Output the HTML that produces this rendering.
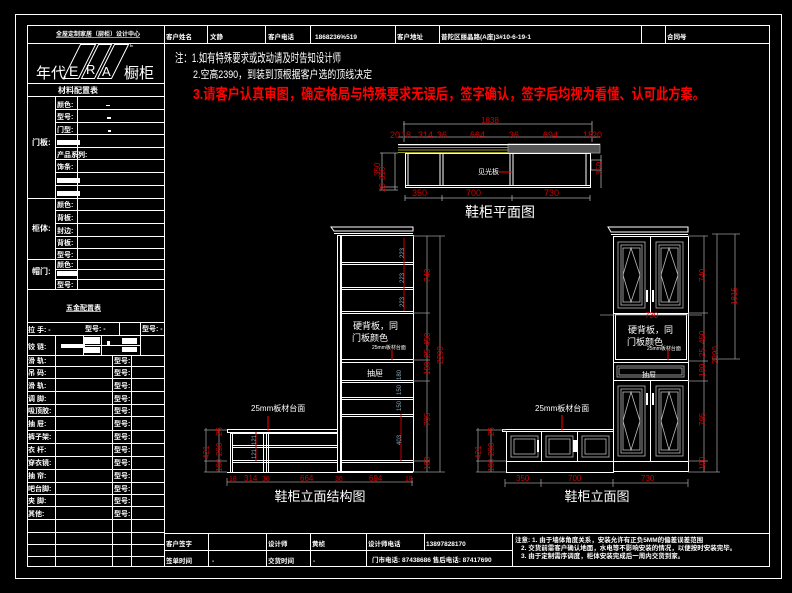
<!DOCTYPE html>
<html><head><meta charset="utf-8"><style>
html,body{margin:0;padding:0;background:#000;}
svg{display:block;}
text{font-family:"Liberation Sans","Noto Sans CJK SC",sans-serif;}
</style></head><body>
<svg width="792" height="593" viewBox="0 0 792 593" xmlns="http://www.w3.org/2000/svg">
<rect width="792" height="593" fill="#000"/>
<g fill="none" stroke="#fff" stroke-width="1">
<rect x="15.5" y="14.5" width="766" height="564"/>
<rect x="27.5" y="25.5" width="742" height="541"/>
<line x1="164.5" y1="25" x2="164.5" y2="566"/>
<line x1="164" y1="43.5" x2="769" y2="43.5"/>
<line x1="207.5" y1="25" x2="207.5" y2="43"/>
<line x1="265.5" y1="25" x2="265.5" y2="43"/>
<line x1="310.5" y1="25" x2="310.5" y2="43"/>
<line x1="395.5" y1="25" x2="395.5" y2="43"/>
<line x1="439.5" y1="25" x2="439.5" y2="43"/>
<line x1="641.5" y1="25" x2="641.5" y2="43"/>
<line x1="665.5" y1="25" x2="665.5" y2="43"/>
<line x1="27" y1="43.5" x2="164" y2="43.5"/>
<line x1="27" y1="83.5" x2="164" y2="83.5"/>
<line x1="27" y1="96.5" x2="164" y2="96.5"/>
<line x1="55" y1="109.5" x2="164" y2="109.5"/>
<line x1="55" y1="122.5" x2="164" y2="122.5"/>
<line x1="55" y1="134.5" x2="164" y2="134.5"/>
<line x1="55" y1="147.5" x2="164" y2="147.5"/>
<line x1="55" y1="159.5" x2="164" y2="159.5"/>
<line x1="55" y1="172.5" x2="164" y2="172.5"/>
<line x1="55" y1="185.5" x2="164" y2="185.5"/>
<line x1="27" y1="198.5" x2="164" y2="198.5"/>
<line x1="55" y1="210.5" x2="164" y2="210.5"/>
<line x1="55" y1="223.5" x2="164" y2="223.5"/>
<line x1="55" y1="236.5" x2="164" y2="236.5"/>
<line x1="55" y1="248.5" x2="164" y2="248.5"/>
<line x1="27" y1="259.5" x2="164" y2="259.5"/>
<line x1="55" y1="269.5" x2="164" y2="269.5"/>
<line x1="55" y1="279.5" x2="164" y2="279.5"/>
<line x1="27" y1="289.5" x2="164" y2="289.5"/>
<line x1="27" y1="322.5" x2="164" y2="322.5"/>
<line x1="55.5" y1="96" x2="55.5" y2="289"/>
<line x1="77.5" y1="96" x2="77.5" y2="289"/>
<line x1="119.5" y1="322" x2="119.5" y2="335"/>
<line x1="140.5" y1="322" x2="140.5" y2="355"/>
<line x1="27" y1="335.5" x2="164" y2="335.5"/>
<line x1="83.5" y1="335" x2="83.5" y2="355"/>
<line x1="101.5" y1="335" x2="101.5" y2="355"/>
<line x1="83" y1="345.5" x2="140" y2="345.5"/>
<line x1="27" y1="355.5" x2="164" y2="355.5"/>
<line x1="27" y1="366.5" x2="164" y2="366.5"/>
<line x1="27" y1="378.5" x2="164" y2="378.5"/>
<line x1="27" y1="391.5" x2="164" y2="391.5"/>
<line x1="27" y1="404.5" x2="164" y2="404.5"/>
<line x1="27" y1="416.5" x2="164" y2="416.5"/>
<line x1="27" y1="430.5" x2="164" y2="430.5"/>
<line x1="27" y1="443.5" x2="164" y2="443.5"/>
<line x1="27" y1="456.5" x2="164" y2="456.5"/>
<line x1="27" y1="469.5" x2="164" y2="469.5"/>
<line x1="27" y1="482.5" x2="164" y2="482.5"/>
<line x1="27" y1="494.5" x2="164" y2="494.5"/>
<line x1="27" y1="506.5" x2="164" y2="506.5"/>
<line x1="27" y1="519.5" x2="164" y2="519.5"/>
<line x1="27" y1="532.5" x2="164" y2="532.5"/>
<line x1="27" y1="544.5" x2="164" y2="544.5"/>
<line x1="27" y1="556.5" x2="164" y2="556.5"/>
<line x1="55.5" y1="335" x2="55.5" y2="566"/>
<line x1="112.5" y1="355" x2="112.5" y2="566"/>
<line x1="131.5" y1="355" x2="131.5" y2="566"/>
<line x1="164" y1="533.5" x2="769" y2="533.5"/>
<line x1="164" y1="550.5" x2="512" y2="550.5"/>
<line x1="208.5" y1="533" x2="208.5" y2="566"/>
<line x1="266.5" y1="533" x2="266.5" y2="566"/>
<line x1="310.5" y1="533" x2="310.5" y2="566"/>
<line x1="366.5" y1="533" x2="366.5" y2="566"/>
<line x1="424.5" y1="533" x2="424.5" y2="550"/>
<line x1="512.5" y1="533" x2="512.5" y2="566"/>
</g>
<g fill="#fff">
<rect x="57" y="140" width="23" height="5"/><rect x="57" y="178" width="23" height="5"/><rect x="57" y="191" width="23" height="5"/>
<rect x="57" y="271" width="21" height="5"/>
<rect x="61" y="344" width="24" height="4"/><rect x="84" y="337" width="16" height="7"/><rect x="84" y="347" width="16" height="6"/><rect x="107" y="341" width="3" height="4"/><rect x="122" y="338" width="15" height="6"/><rect x="122" y="347" width="15" height="5"/>
<rect x="107" y="117" width="4" height="2"/><rect x="108" y="130" width="3" height="2"/><rect x="106" y="105" width="4" height="1"/>
</g>
<g fill="#fff" font-size="7" font-weight="bold">
<text x="56" y="36" font-size="6" text-decoration="underline">全屋定制家居（厨柜）设计中心</text>
<text x="58" y="93" font-size="8">材料配置表</text>
<text x="32" y="145" font-size="8">门板:</text>
<text x="32" y="231" font-size="8">柜体:</text>
<text x="32" y="274" font-size="8">帽门:</text>
<text x="66" y="310" font-size="7" text-decoration="underline">五金配置表</text>
<text x="57" y="107">颜色:</text><text x="57" y="119">型号:</text><text x="57" y="132">门型:</text>
<text x="57" y="157">产品系列:</text><text x="57" y="169">饰条:</text>
<text x="57" y="207">颜色:</text><text x="57" y="220">背板:</text><text x="57" y="233">封边:</text><text x="57" y="245">背板:</text><text x="57" y="257">型号:</text>
<text x="57" y="267">颜色:</text><text x="57" y="287">型号:</text>
<text x="28" y="332">拉 手:  -</text><text x="85" y="331">型号: -</text><text x="142" y="331">型号: -</text>
<text x="28" y="349">铰 链:</text>
<text x="28" y="363">滑 轨:</text><text x="28" y="375">吊 码:</text><text x="28" y="388">滑 轨:</text><text x="28" y="401">调 脚:</text><text x="28" y="413">吸顶胶:</text><text x="28" y="426">抽 屉:</text><text x="28" y="439">裤子架:</text><text x="28" y="452">衣 杆:</text><text x="28" y="465">穿衣镜:</text><text x="28" y="478">抽 帘:</text><text x="28" y="491">吧台脚:</text><text x="28" y="503">夹 脚:</text><text x="28" y="516">其他:</text>
<g><text x="114" y="363">型号:</text><text x="114" y="375">型号:</text><text x="114" y="388">型号:</text><text x="114" y="401">型号:</text><text x="114" y="413">型号:</text><text x="114" y="426">型号:</text><text x="114" y="439">型号:</text><text x="114" y="452">型号:</text><text x="114" y="465">型号:</text><text x="114" y="478">型号:</text><text x="114" y="491">型号:</text><text x="114" y="503">型号:</text><text x="114" y="516">型号:</text></g>
</g>
<!-- logo -->
<g stroke="#fff" fill="none" stroke-width="1">
<polygon points="63.5,78.5 80.5,44.5 95.5,44.5 78.5,78.5"/>
<polygon points="81.5,78.5 98.5,44.5 111.5,44.5 94.5,78.5"/>
<polygon points="97.5,78.5 114.5,44.5 128.5,44.5 111.5,78.5"/>
</g>
<g fill="#fff">
<text x="36" y="78" font-size="15" font-family="Liberation Serif,Noto Serif CJK SC,serif">年代</text>
<text x="69" y="76" font-size="14" font-family="Liberation Serif,serif">E</text>
<text x="86" y="74" font-size="13" font-family="Liberation Serif,serif">R</text>
<text x="102" y="76" font-size="13" font-family="Liberation Serif,serif">A</text>
<text x="124" y="78" font-size="15" font-family="Liberation Serif,Noto Serif CJK SC,serif">橱柜</text>
<text x="130" y="47" font-size="5">E</text>
</g>
<g fill="#fff" font-size="6.5" font-weight="bold">
<text x="166" y="39">客户姓名</text><text x="210" y="39">文静</text><text x="268" y="39">客户电话</text><text x="315" y="39">1868236%519</text>
<text x="397" y="39">客户地址</text><text x="441" y="39">普陀区丽晶路(A座)3#10-6-19-1</text><text x="667" y="39">合同号</text><text x="667" y="39" dx="12">-    -</text>
<text x="166" y="546">客户签字</text><text x="268" y="546">设计师</text><text x="312" y="546">黄桢</text><text x="368" y="546">设计师电话</text><text x="426" y="546">13897828170</text>
<text x="166" y="563">签单时间</text><text x="212" y="563">-</text><text x="268" y="563">交货时间</text><text x="313" y="563">-</text><text x="372" y="562">门市电话: 87438686   售后电话: 87417690</text>
<text x="515" y="542">注意: 1. 由于墙体角度关系，安装允许有正负5MM的偏差误差范围</text>
<text x="521" y="550">2. 交货前需客户确认地面，水电等不影响安装的情况，以便按时安装完毕。</text>
<text x="521" y="558">3. 由于定制需序调度，柜体安装完成后一周内交货到家。</text>
</g>
<text x="175" y="62" fill="#fff" font-size="12" textLength="166" lengthAdjust="spacingAndGlyphs" font-family="Liberation Serif,Noto Serif CJK SC,serif">注：1.如有特殊要求或改动请及时告知设计师</text>
<text x="193" y="78" fill="#fff" font-size="11" textLength="179" lengthAdjust="spacingAndGlyphs" font-family="Liberation Serif,Noto Serif CJK SC,serif">2.空高2390，到装到顶根据客户选的顶线决定</text>
<text x="193" y="99" fill="#f00" font-size="15" font-weight="bold" textLength="512" lengthAdjust="spacingAndGlyphs" font-family="Liberation Serif,Noto Serif CJK SC,serif">3.请客户认真审图，确定格局与特殊要求无误后，签字确认，签字后均视为看懂、认可此方案。</text>

<!-- PLAN VIEW -->
<g stroke="#aaa" stroke-width="0.8" fill="none">
<line x1="403" y1="124" x2="592" y2="124"/><line x1="404" y1="121" x2="404" y2="142"/><line x1="592" y1="121" x2="592" y2="142"/>
<line x1="398" y1="137" x2="600" y2="137"/>
<line x1="405" y1="198" x2="590" y2="198"/><line x1="405" y1="195" x2="405" y2="201"/><line x1="442" y1="195" x2="442" y2="201"/><line x1="512" y1="195" x2="512" y2="201"/><line x1="590" y1="195" x2="590" y2="201"/>
<line x1="382" y1="153" x2="382" y2="190"/><line x1="395" y1="153" x2="395" y2="190"/><line x1="380" y1="153" x2="398" y2="153"/><line x1="380" y1="187" x2="398" y2="187"/><line x1="380" y1="190" x2="398" y2="190"/>
<line x1="601" y1="155" x2="601" y2="188"/><rect x="591" y="160" width="10" height="10"/>
</g>
<g fill="#c00" font-size="9" font-family="Liberation Sans,sans-serif">
<text x="490" y="123" text-anchor="middle" font-size="8">1838</text>
<text x="390" y="138">20</text><text x="401" y="138">18</text><text x="418" y="138">314</text><text x="437" y="138">36</text><text x="470" y="138">664</text><text x="509" y="138">36</text><text x="543" y="138">694</text><text x="583" y="138">18</text><text x="592" y="138">20</text>
<text x="412" y="196">350</text><text x="466" y="196">700</text><text x="544" y="196">730</text>
<text transform="translate(385,180) rotate(-90)" font-size="8">310</text>
<text transform="translate(385,192) rotate(-90)" font-size="8">20</text>
<text transform="translate(380,176) rotate(-90)" font-size="8">350</text>
<text transform="translate(602,175) rotate(-90)" font-size="8">350</text>
</g>
<g stroke="#cc3" stroke-width="0.8"><line x1="398" y1="145" x2="508" y2="145"/><line x1="398" y1="147.5" x2="508" y2="147.5"/><line x1="398" y1="150" x2="508" y2="150"/><line x1="398" y1="152.5" x2="508" y2="152.5"/></g>
<rect x="508" y="144" width="92" height="9" fill="#555" stroke="#999" stroke-width="0.8"/>
<g stroke="#fff" fill="none" stroke-width="1">
<rect x="405.5" y="153.5" width="185" height="34"/>
<line x1="398" y1="144.5" x2="600" y2="144.5"/>
<line x1="408" y1="153" x2="408" y2="186"/><line x1="440" y1="153" x2="440" y2="186"/><line x1="443" y1="153" x2="443" y2="186"/>
<line x1="510" y1="153" x2="510" y2="186"/><line x1="513" y1="153" x2="513" y2="186"/><line x1="586" y1="153" x2="586" y2="186"/>
<line x1="405" y1="185.5" x2="590" y2="185.5"/>
</g>
<line x1="499" y1="172" x2="512" y2="172" stroke="#f00" stroke-width="1"/>
<text x="478" y="174" fill="#fff" font-size="7">见光板</text>
<text x="500" y="217" fill="#fff" font-size="14" text-anchor="middle" font-family="Liberation Sans,Noto Sans CJK SC,sans-serif">鞋柜平面图</text>

<!-- STRUCTURE ELEVATION -->
<g stroke="#fff" fill="none" stroke-width="1">
<polygon points="331,227 413,227 413,231 334,231"/><line x1="334" y1="233.5" x2="413" y2="233.5"/>
<rect x="337.5" y="235.5" width="76" height="236"/>
<line x1="340.5" y1="236" x2="340.5" y2="471"/><line x1="341.5" y1="236" x2="341.5" y2="471"/>
<line x1="341" y1="262.5" x2="413" y2="262.5"/><line x1="341" y1="264.5" x2="413" y2="264.5"/>
<line x1="341" y1="287.5" x2="413" y2="287.5"/><line x1="341" y1="289.5" x2="413" y2="289.5"/>
<line x1="341" y1="311.5" x2="413" y2="311.5"/><line x1="341" y1="313.5" x2="413" y2="313.5"/>
<line x1="341" y1="359.5" x2="413" y2="359.5"/><line x1="341" y1="362.5" x2="413" y2="362.5"/>
<line x1="341" y1="380.5" x2="413" y2="380.5"/><line x1="341" y1="382.5" x2="413" y2="382.5"/>
<line x1="341" y1="397.5" x2="413" y2="397.5"/><line x1="341" y1="399.5" x2="413" y2="399.5"/>
<line x1="341" y1="414.5" x2="413" y2="414.5"/><line x1="341" y1="416.5" x2="413" y2="416.5"/>
<line x1="341" y1="460.5" x2="413" y2="460.5"/><line x1="341" y1="462.5" x2="413" y2="462.5"/>
<rect x="227.5" y="429.5" width="110" height="3"/>
<line x1="230.5" y1="432" x2="230.5" y2="472"/><line x1="232.5" y1="432" x2="232.5" y2="472"/>
<line x1="263.5" y1="432" x2="263.5" y2="472"/><line x1="266.5" y1="432" x2="266.5" y2="472"/><line x1="268.5" y1="432" x2="268.5" y2="472"/>
<line x1="230" y1="433.5" x2="337" y2="433.5"/>
<line x1="232" y1="445.5" x2="337" y2="445.5"/><line x1="232" y1="447.5" x2="337" y2="447.5"/>
<line x1="232" y1="460.5" x2="337" y2="460.5"/><line x1="232" y1="462.5" x2="337" y2="462.5"/>
<line x1="227" y1="472.5" x2="413" y2="472.5"/>
</g>
<g stroke="#999" stroke-width="0.8" fill="none">
<line x1="427" y1="236" x2="427" y2="472"/><line x1="440" y1="236" x2="440" y2="472"/>
<line x1="413" y1="236" x2="445" y2="236"/><line x1="413" y1="313" x2="430" y2="313"/><line x1="413" y1="360" x2="430" y2="360"/><line x1="413" y1="381" x2="430" y2="381"/><line x1="413" y1="461" x2="430" y2="461"/><line x1="413" y1="472" x2="445" y2="472"/>
<line x1="206" y1="428" x2="206" y2="472"/><line x1="219" y1="428" x2="219" y2="472"/><line x1="204" y1="430" x2="227" y2="430"/><line x1="204" y1="461" x2="227" y2="461"/><line x1="204" y1="472" x2="227" y2="472"/>
<line x1="227" y1="482" x2="413" y2="482"/><line x1="227" y1="478" x2="227" y2="486"/><line x1="412" y1="478" x2="412" y2="486"/>
</g>
<g stroke="#c00" stroke-width="1"><line x1="404" y1="238" x2="404" y2="311"/><line x1="401" y1="414" x2="401" y2="461"/><line x1="256" y1="432" x2="256" y2="461"/><line x1="268" y1="416" x2="268" y2="431" stroke="#f00"/><line x1="392" y1="350" x2="392" y2="360" stroke="#f00"/></g>
<g fill="#c00" font-size="8">
<text transform="translate(430,282) rotate(-90)">740</text><text transform="translate(430,346) rotate(-90)">450</text><text transform="translate(430,358) rotate(-90)">25</text><text transform="translate(430,375) rotate(-90)">180</text><text transform="translate(430,426) rotate(-90)">795</text><text transform="translate(430,470) rotate(-90)">100</text>
<text transform="translate(443,364) rotate(-90)">2290</text>
<text transform="translate(209,459) rotate(-90)">421</text><text transform="translate(222,456) rotate(-90)">290</text><text transform="translate(222,436) rotate(-90)">25</text><text transform="translate(222,472) rotate(-90)">100</text>
<text x="229" y="481" font-size="7">18</text><text x="244" y="481">314</text><text x="262" y="481" font-size="7">36</text><text x="300" y="481">664</text><text x="335" y="481" font-size="7">36</text><text x="369" y="481">694</text><text x="405" y="481" font-size="7">18</text>
</g>
<g fill="#8ab" font-size="6"><text transform="translate(404,258) rotate(-90)">223</text><text transform="translate(404,283) rotate(-90)">223</text><text transform="translate(404,307) rotate(-90)">223</text><text transform="translate(401,380) rotate(-90)">180</text><text transform="translate(401,395) rotate(-90)">150</text><text transform="translate(401,411) rotate(-90)">150</text><text transform="translate(401,445) rotate(-90)">403</text><text transform="translate(256,445) rotate(-90)">121</text><text transform="translate(256,459) rotate(-90)">121</text></g>
<g fill="#fff">
<text x="353" y="329" font-size="9">硬背板，同</text><text x="352" y="341" font-size="9">门板颜色</text>
<text x="372" y="349" font-size="5">25mm板材台面</text>
<text x="367" y="376" font-size="8">抽屉</text>
<text x="251" y="411" font-size="8">25mm板材台面</text>
<text x="320" y="501" font-size="13" text-anchor="middle">鞋柜立面结构图</text>
</g>

<!-- FRONT ELEVATION -->
<g stroke="#fff" fill="none" stroke-width="1">
<polygon points="608,227 688,227 688,232 611,232"/><line x1="611" y1="234.5" x2="688" y2="234.5"/>
<rect x="613.5" y="236.5" width="75" height="235"/>
<line x1="613" y1="313.5" x2="688" y2="313.5"/>
<rect x="615.5" y="314.5" width="71" height="45"/>
<line x1="613" y1="362.5" x2="688" y2="362.5"/>
<line x1="613" y1="380.5" x2="688" y2="380.5"/>
<line x1="613" y1="461.5" x2="688" y2="461.5"/>
<line x1="650.5" y1="237" x2="650.5" y2="313"/><line x1="650.5" y1="381" x2="650.5" y2="461"/>
<rect x="502.5" y="429.5" width="111" height="2"/>
<rect x="506.5" y="431.5" width="107" height="41"/>
<line x1="506" y1="461.5" x2="613" y2="461.5"/>
<line x1="541.5" y1="432" x2="541.5" y2="461"/><line x1="577.5" y1="432" x2="577.5" y2="461"/>
</g>
<g stroke="#bbb" fill="none" stroke-width="0.8">
<rect x="618" y="242" width="27" height="66"/><rect x="621" y="245" width="21" height="60"/><rect x="623" y="248" width="17" height="54"/>
<rect x="656" y="242" width="27" height="66"/><rect x="659" y="245" width="21" height="60"/><rect x="661" y="248" width="17" height="54"/>
<rect x="618" y="386" width="27" height="70"/><rect x="621" y="389" width="21" height="64"/><rect x="623" y="392" width="17" height="58"/>
<rect x="656" y="386" width="27" height="70"/><rect x="659" y="389" width="21" height="64"/><rect x="661" y="392" width="17" height="58"/>
<rect x="617" y="366" width="67" height="11"/><rect x="619" y="368" width="63" height="7"/>
<rect x="511" y="436" width="27" height="21"/><rect x="514" y="439" width="21" height="15"/>
<rect x="546" y="436" width="27" height="21"/><rect x="549" y="439" width="21" height="15"/>
<rect x="582" y="436" width="27" height="21"/><rect x="585" y="439" width="21" height="15"/>
<polyline points="623,275 631,248 640,275 631,302 623,275"/><polyline points="661,275 669,248 678,275 669,302 661,275"/>
<polyline points="623,421 631,392 640,421 631,450 623,421"/><polyline points="661,421 669,392 678,421 669,450 661,421"/>
<line x1="600" y1="315" x2="702" y2="315" stroke="#999"/>
</g>
<g fill="#fff"><rect x="646" y="290" width="2" height="12"/><rect x="652" y="290" width="2" height="12"/><rect x="646" y="393" width="2" height="12"/><rect x="652" y="393" width="2" height="12"/><rect x="537" y="440" width="2" height="12"/><rect x="573" y="440" width="2" height="12"/><rect x="575" y="440" width="2" height="12"/></g>
<g stroke="#999" stroke-width="0.8" fill="none">
<line x1="704" y1="236" x2="704" y2="472"/><line x1="717" y1="234" x2="717" y2="472"/><line x1="735" y1="234" x2="735" y2="359"/>
<line x1="688" y1="236" x2="708" y2="236"/><line x1="688" y1="313" x2="708" y2="313"/><line x1="688" y1="361" x2="708" y2="361"/><line x1="688" y1="381" x2="708" y2="381"/><line x1="688" y1="461" x2="708" y2="461"/><line x1="688" y1="472" x2="720" y2="472"/><line x1="712" y1="234" x2="740" y2="234"/><line x1="712" y1="359" x2="740" y2="359"/>
<line x1="478" y1="428" x2="478" y2="472"/><line x1="491" y1="428" x2="491" y2="472"/><line x1="476" y1="430" x2="506" y2="430"/><line x1="476" y1="461" x2="506" y2="461"/><line x1="476" y1="472" x2="506" y2="472"/>
<line x1="505" y1="483" x2="688" y2="483"/><line x1="505" y1="479" x2="505" y2="487"/><line x1="541" y1="479" x2="541" y2="487"/><line x1="613" y1="479" x2="613" y2="487"/><line x1="688" y1="479" x2="688" y2="487"/>
</g>
<line x1="562" y1="415" x2="562" y2="431" stroke="#f00"/><line x1="668" y1="350" x2="668" y2="360" stroke="#f00"/>
<g fill="#c00" font-size="8">
<text transform="translate(705,282) rotate(-90)">740</text><text transform="translate(705,344) rotate(-90)">450</text><text transform="translate(705,357) rotate(-90)">25</text><text transform="translate(705,377) rotate(-90)">180</text><text transform="translate(705,426) rotate(-90)">795</text><text transform="translate(705,470) rotate(-90)">100</text>
<text transform="translate(718,364) rotate(-90)">2290</text><text transform="translate(737,305) rotate(-90)">1815</text>
<text transform="translate(481,459) rotate(-90)">421</text><text transform="translate(494,456) rotate(-90)">290</text><text transform="translate(494,436) rotate(-90)">25</text><text transform="translate(494,472) rotate(-90)">100</text>
<text x="516" y="481">350</text><text x="568" y="481">700</text><text x="641" y="481">730</text><text x="645" y="318">730</text>
</g>
<g fill="#fff">
<text x="628" y="333" font-size="9">硬背板，同</text><text x="627" y="345" font-size="9">门板颜色</text>
<text x="647" y="350" font-size="5">25mm板材台面</text>
<text x="642" y="377" font-size="7">抽屉</text>
<text x="535" y="411" font-size="8">25mm板材台面</text>
<text x="597" y="501" font-size="13" text-anchor="middle">鞋柜立面图</text>
</g>
</svg>
</body></html>
